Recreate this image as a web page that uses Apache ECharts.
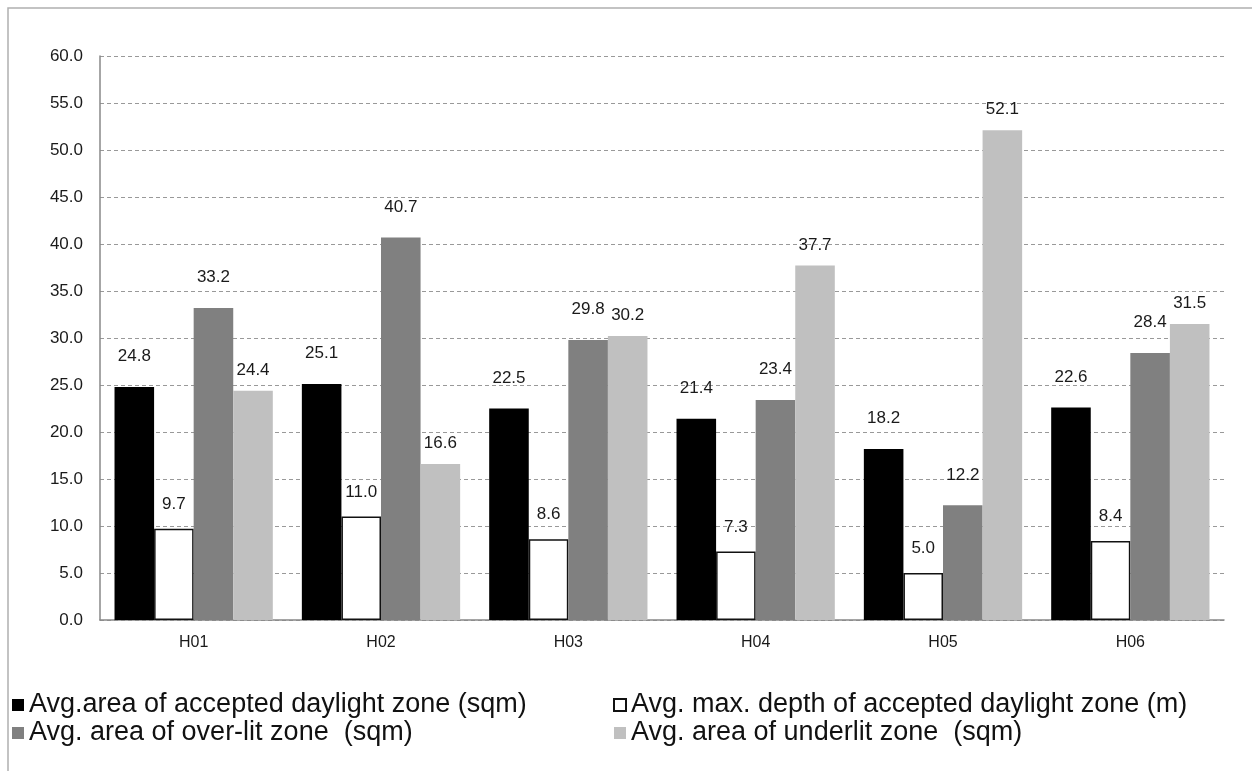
<!DOCTYPE html>
<html>
<head>
<meta charset="utf-8">
<script src="https://cdn.jsdelivr.net/npm/echarts@6/dist/echarts.min.js"></script>
<style>
  html, body { margin: 0; padding: 0; background: #fff; }
  #chart { width: 1252px; height: 771px; }
</style>
</head>
<body>
<div id="chart"></div>
<script>
  // 数据
  const categories = ['H01', 'H02', 'H03', 'H04', 'H05', 'H06'];
  const seriesNames = [
    'Avg.area of accepted daylight zone (sqm)',
    'Avg. max. depth of accepted daylight zone (m)',
    'Avg. area of over-lit zone  (sqm)',
    'Avg. area of underlit zone  (sqm)'
  ];
  const acceptedArea = [24.8, 25.1, 22.5, 21.4, 18.2, 22.6];
  const acceptedDepth = [9.7, 11.0, 8.6, 7.3, 5.0, 8.4];
  const overlitArea = [33.2, 40.7, 29.8, 23.4, 12.2, 28.4];
  const underlitArea = [24.4, 16.6, 30.2, 37.7, 52.1, 31.5];

  const font = 'Liberation Sans, Arial, sans-serif';

  function bar(name, data, itemStyle, dist) {
    return {
      name: name,
      type: 'bar',
      data: data,
      barGap: '0%',
      barCategoryGap: '15.5%',
      itemStyle: itemStyle,
      label: {
        show: true,
        position: 'top',
        distance: dist,
        fontFamily: font,
        fontSize: 17,
        color: '#1a1a1a',
        formatter: function (p) { return p.value.toFixed(1); }
      }
    };
  }

  const legendText = {
    fontFamily: font,
    fontSize: 27,
    lineHeight: 28,
    color: '#111'
  };

  let option = {
    backgroundColor: '#fff',
    animation: false,
    grid: { left: 100, right: 28, top: 56, bottom: 151 },
    legend: [
      {
        orient: 'vertical',
        left: 7,
        top: 686,
        itemGap: 0,
        itemWidth: 12,
        itemHeight: 12,
        icon: 'rect',
        textStyle: legendText,
        data: [seriesNames[0], seriesNames[2]]
      },
      {
        orient: 'vertical',
        left: 608,
        top: 686,
        itemGap: 0,
        itemWidth: 12,
        itemHeight: 12,
        icon: 'rect',
        textStyle: legendText,
        data: [seriesNames[1], seriesNames[3]]
      }
    ],
    xAxis: {
      type: 'category',
      data: categories,
      axisLine: { lineStyle: { color: '#888', width: 1.5 } },
      axisTick: { show: false },
      axisLabel: {
        margin: 15,
        fontFamily: font,
        fontSize: 16,
        color: '#1a1a1a'
      }
    },
    yAxis: {
      type: 'value',
      min: 0,
      max: 60,
      interval: 5,
      axisLine: { show: true, lineStyle: { color: '#888', width: 1.5 } },
      axisTick: { show: false },
      splitLine: { lineStyle: { color: '#999', type: [4, 3], width: 1 } },
      axisLabel: {
        margin: 17,
        fontFamily: font,
        fontSize: 17,
        color: '#1a1a1a',
        formatter: function (v) { return v.toFixed(1); }
      }
    },
    graphic: [
      {
        type: 'polyline',
        shape: { points: [[8, 790], [8, 8], [1260, 8]] },
        style: { stroke: '#b0b0b0', fill: null, lineWidth: 1.5 },
        silent: true
      }
    ],
    series: [
      bar(seriesNames[0], acceptedArea, { color: '#000' }, 22),
      bar(seriesNames[1], acceptedDepth, { color: '#fff', borderColor: '#111', borderWidth: 1.5 }, 16),
      bar(seriesNames[2], overlitArea, { color: '#808080' }, 22),
      bar(seriesNames[3], underlitArea, { color: '#c0c0c0' }, 12)
    ]
  };

  const chartObj = echarts.init(document.getElementById('chart'));
  chartObj.setOption(option);
</script>
</body>
</html>
